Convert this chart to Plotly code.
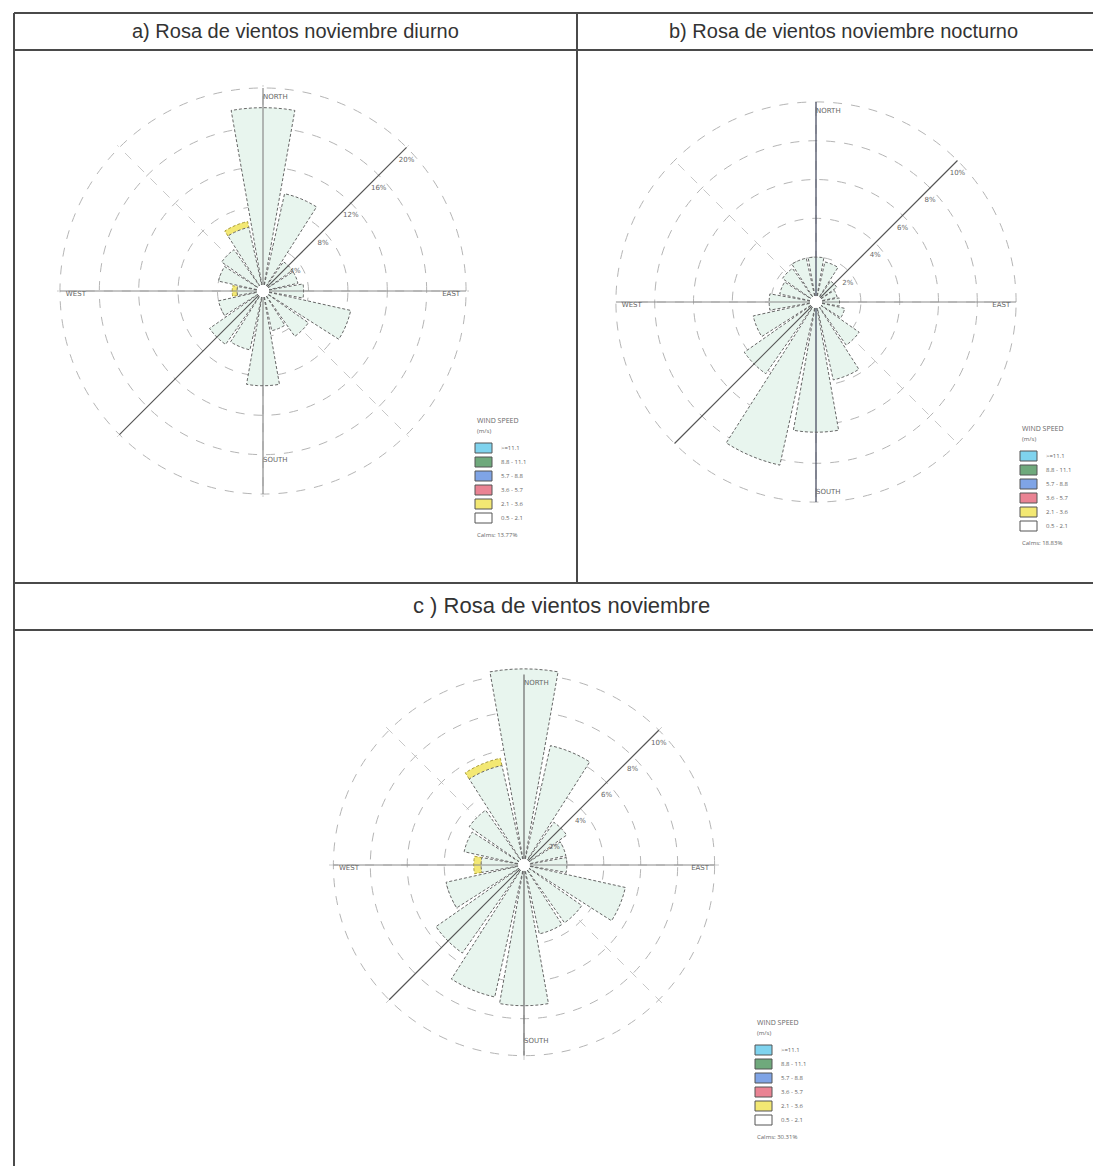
import plotly.graph_objects as go

W, H = 1101, 1166

# 16 compass sectors, clockwise from north
directions = ["N", "NNE", "NE", "ENE", "E", "ESE", "SE", "SSE",
              "S", "SSW", "SW", "WSW", "W", "WNW", "NW", "NNW"]
angles = [i * 22.5 for i in range(16)]

# wind speed classes (m/s), legend order top -> bottom
speed_labels = [">=11.1", "8.8 - 11.1", "5.7 - 8.8", "3.6 - 5.7", "2.1 - 3.6", "0.5 - 2.1"]
speed_colors = ["#7fd3ee", "#6fa97c", "#7fa4e6", "#ea8393", "#f3e873", "#ffffff"]

# frequencies (%) per sector, only the two lowest classes occur
a_05_21 = [18.0, 9.5, 3.0, 3.0, 3.5, 8.5, 5.0, 3.5, 9.0, 5.5, 6.0, 4.0, 2.0, 4.0, 4.5, 6.0]
a_21_36 = [0, 0, 0, 0, 0, 0, 0, 0, 0, 0, 0, 0, 0.5, 0, 0, 0.6]

b_05_21 = [2.0, 1.8, 1.0, 0.8, 0.9, 1.2, 2.4, 3.8, 6.4, 8.3, 4.2, 3.0, 2.1, 1.6, 1.8, 2.0]
b_21_36 = [0] * 16

c_05_21 = [10.3, 6.3, 2.5, 2.0, 2.0, 5.3, 3.5, 3.5, 7.3, 7.0, 5.5, 4.0, 2.0, 3.0, 3.3, 5.2]
c_21_36 = [0, 0, 0, 0, 0, 0, 0, 0, 0, 0, 0, 0, 0.4, 0, 0, 0.4]

a_ticks = [4, 8, 12, 16, 20]
b_ticks = [2, 4, 6, 8, 10]
c_ticks = [2, 4, 6, 8, 10]

calms = {"a": "Calms: 13.77%", "b": "Calms: 18.83%", "c": "Calms: 30.31%"}

titles = ["a) Rosa de vientos noviembre diurno",
          "b) Rosa de vientos noviembre nocturno",
          "c ) Rosa de vientos noviembre"]

BAR_W = 20


def px(x):
    return x / W


def py(y):
    return 1 - y / H


def outline(r0, r1, th):
    # closed path of one wedge: two radial edges and the arc at the top
    lo, hi = th - BAR_W / 2, th + BAR_W / 2
    ths = [lo] + [lo + k * BAR_W / 6 for k in range(7)] + [hi]
    rs = [r0] + [r1] * 7 + [r0]
    return rs, ths


fig = go.Figure()

panels = [
    # key, polar id, low, high, ticks, rmax, centre(px), radius(px), legend top-left(px), south label r, N-S colour
    ("a", "polar", a_05_21, a_21_36, a_ticks, 20.3, (255, 283), 206, (467, 406), 0.83, "#8a8a8a"),
    ("b", "polar2", b_05_21, b_21_36, b_ticks, 10.15, (808, 294), 203, (1012, 414), 0.95, "#3c4157"),
    ("c", "polar3", c_05_21, c_21_36, c_ticks, 10.4, (516, 857), 198, (747, 1008), 0.92, "#6a6a6a"),
]

shapes = []
annotations = []

for key, pid, low, high, ticks, rmax, (cx, cy), R, (lx, ly), s_r, ns_col in panels:
    fig.add_trace(go.Barpolar(
        r=low, theta=angles, width=[BAR_W] * 16, subplot=pid,
        marker=dict(color="#e8f5ee", line=dict(width=0)),
        name="0.5 - 2.1", showlegend=False, hoverinfo="skip"))
    fig.add_trace(go.Barpolar(
        r=high, theta=angles, width=[BAR_W] * 16, subplot=pid,
        marker=dict(color="#f3e873", line=dict(width=0)),
        name="2.1 - 3.6", showlegend=False, hoverinfo="skip"))

    # main axes: N-S, E-W thin, NE-SW darker
    top = ticks[-1]
    fig.add_trace(go.Scatterpolar(
        r=[top, top], theta=[90, 270], mode="lines", subplot=pid,
        line=dict(color="#8a8a8a", width=1), showlegend=False, hoverinfo="skip"))
    fig.add_trace(go.Scatterpolar(
        r=[top, top], theta=[0, 180], mode="lines", subplot=pid,
        line=dict(color=ns_col, width=1.2), showlegend=False, hoverinfo="skip"))
    fig.add_trace(go.Scatterpolar(
        r=[top, top], theta=[45, 225], mode="lines", subplot=pid,
        line=dict(color="#555555", width=1.2), showlegend=False, hoverinfo="skip"))

    # dashed wedge outlines
    lr, lt, hr, ht = [], [], [], []
    for v0, v1, th in zip(low, high, angles):
        rs, ths = outline(0, v0, th)
        lr += rs + [None]
        lt += ths + [None]
        if v1 > 0:
            rs, ths = outline(v0, v0 + v1, th)
            hr += rs + [None]
            ht += ths + [None]
    fig.add_trace(go.Scatterpolar(
        r=lr, theta=lt, mode="lines", subplot=pid,
        line=dict(color="#666666", width=1, dash="3px,2px"),
        showlegend=False, hoverinfo="skip"))
    if hr:
        fig.add_trace(go.Scatterpolar(
            r=hr, theta=ht, mode="lines", subplot=pid,
            line=dict(color="#a99d3c", width=1, dash="3px,2px"),
            showlegend=False, hoverinfo="skip"))

    # ring labels along the NE diagonal
    fig.add_trace(go.Scatterpolar(
        r=ticks, theta=[45] * len(ticks), mode="text", subplot=pid,
        text=[f"<br>{t}%" for t in ticks], textposition="bottom center",
        textfont=dict(size=7, color="#666666", family="DejaVu Sans"),
        showlegend=False, hoverinfo="skip"))

    # compass labels
    fig.add_trace(go.Scatterpolar(
        r=[top * 0.97, top * 0.97, top * s_r, top * 0.97],
        theta=[0, 90, 180, 270], mode="text", subplot=pid,
        text=["NORTH", "EAST", "SOUTH", "WEST"],
        textposition=["bottom right", "bottom left", "middle right", "bottom right"],
        textfont=dict(size=7, color="#666666", family="DejaVu Sans"),
        showlegend=False, hoverinfo="skip"))

    fig.layout[pid] = dict(
        domain=dict(x=[px(cx - R), px(cx + R)], y=[py(cy + R), py(cy - R)]),
        hole=0.03,
        bgcolor="white",
        radialaxis=dict(range=[0, rmax], tickvals=ticks, showticklabels=False,
                        showline=False, ticks="",
                        gridcolor="#b5b5b5", griddash="dash", gridwidth=1),
        angularaxis=dict(rotation=90, direction="clockwise", dtick=45,
                         showline=False, showticklabels=False, ticks="",
                         gridcolor="#c8c8c8", griddash="dash", gridwidth=1),
    )

    # legend drawn as boxes + text
    annotations.append(dict(x=px(lx), y=py(ly), xref="paper", yref="paper",
                            text="WIND SPEED", showarrow=False, xanchor="left",
                            yanchor="top", font=dict(size=7, color="#666666")))
    annotations.append(dict(x=px(lx), y=py(ly + 11), xref="paper", yref="paper",
                            text="(m/s)", showarrow=False, xanchor="left",
                            yanchor="top", font=dict(size=6, color="#666666")))
    for i, (lab, col) in enumerate(zip(speed_labels, speed_colors)):
        y0 = ly + 29 + i * 14
        shapes.append(dict(type="rect", xref="paper", yref="paper",
                           x0=px(lx), x1=px(lx + 17), y0=py(y0), y1=py(y0 + 10),
                           fillcolor=col, line=dict(color="#555555", width=1)))
        annotations.append(dict(x=px(lx + 24), y=py(y0 + 5), xref="paper", yref="paper",
                                text=lab, showarrow=False, xanchor="left",
                                yanchor="middle", font=dict(size=6, color="#666666")))
    annotations.append(dict(x=px(lx), y=py(ly + 29 + 6 * 14 + 2), xref="paper",
                            yref="paper", text=calms[key], showarrow=False,
                            xanchor="left", yanchor="top",
                            font=dict(size=6, color="#666666")))

# table frame
line = dict(color="#4a4a4a", width=2)
for yy in [5, 42, 575, 622]:
    shapes.append(dict(type="line", xref="paper", yref="paper",
                       x0=px(6), x1=1, y0=py(yy), y1=py(yy), line=line))
shapes.append(dict(type="line", xref="paper", yref="paper",
                   x0=px(6), x1=px(6), y0=py(5), y1=0, line=line))
shapes.append(dict(type="line", xref="paper", yref="paper",
                   x0=px(569), x1=px(569), y0=py(5), y1=py(575), line=line))

for txt, (tx, ty), fs in zip(titles, [(287, 23), (835, 23), (553, 598)], [20, 20, 22]):
    annotations.append(dict(x=px(tx), y=py(ty), xref="paper", yref="paper",
                            text=txt, showarrow=False, xanchor="center",
                            yanchor="middle",
                            font=dict(size=fs, color="#333333",
                                      family="Liberation Sans, Arial")))

fig.update_layout(width=W, height=H, margin=dict(l=0, r=0, t=0, b=0),
                  paper_bgcolor="white", plot_bgcolor="white",
                  shapes=shapes, annotations=annotations, showlegend=False)

fig.write_html("out.html", config={"displayModeBar": False})
